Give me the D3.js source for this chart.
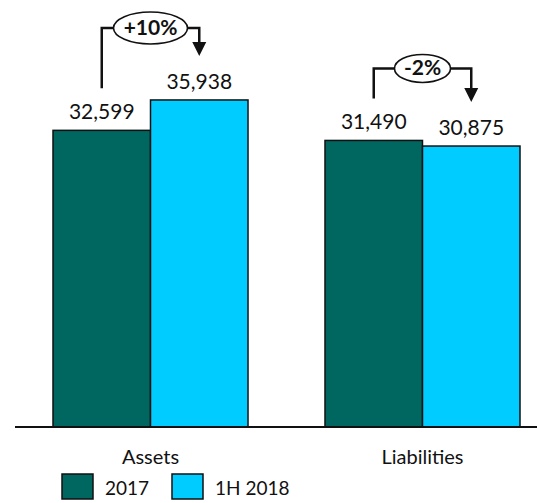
<!DOCTYPE html>
<html>
<head>
<meta charset="utf-8">
<script src="https://cdn.jsdelivr.net/npm/d3@7"></script>
<style>
  body { margin: 0; background: #fff; }
  text { font-family: Lato, "Open Sans", sans-serif; fill: #111; }
</style>
</head>
<body>
<div id="chart"></div>
<script>
// Data
const categories = ["Assets", "Liabilities"];
const seriesNames = ["2017", "1H 2018"];
const values2017 = [32599, 31490];
const values1H2018 = [35938, 30875];
const changeLabels = ["+10%", "-2%"];
const colors = ["#006660", "#00CCFF"];

const width = 537, height = 503;
const baseline = 427;

const svg = d3.select("#chart")
  .append("svg")
  .attr("width", width)
  .attr("height", height);

// Scales
const x0 = d3.scaleBand()
  .domain(categories)
  .range([53, 520])
  .paddingInner(0.283)
  .paddingOuter(0);

const x1 = d3.scaleBand()
  .domain(seriesNames)
  .range([0, x0.bandwidth()]);

const y = d3.scaleLinear()
  .domain([0, 40000])
  .range([baseline, baseline - 364]);

const rows = categories.map((c, i) => ({
  cat: c,
  vals: [values2017[i], values1H2018[i]],
  change: changeLabels[i]
}));

// Bars
const groups = svg.selectAll(".grp")
  .data(rows)
  .enter()
  .append("g")
  .attr("transform", d => `translate(${x0(d.cat)},0)`);

groups.selectAll("rect")
  .data(d => d.vals.map((v, j) => ({ key: seriesNames[j], v: v, j: j })))
  .enter()
  .append("rect")
  .attr("x", d => x1(d.key))
  .attr("y", d => y(d.v))
  .attr("width", x1.bandwidth())
  .attr("height", d => baseline - y(d.v))
  .attr("fill", d => colors[d.j])
  .attr("stroke", "#111")
  .attr("stroke-width", 1.5);

// Value labels
groups.selectAll(".val")
  .data(d => d.vals.map((v, j) => ({ key: seriesNames[j], v: v })))
  .enter()
  .append("text")
  .attr("x", d => x1(d.key) + x1.bandwidth() / 2)
  .attr("y", d => y(d.v) - 11)
  .attr("text-anchor", "middle")
  .attr("font-size", "21px")
  .text(d => d3.format(",")(d.v));

// Axis line
svg.append("line")
  .attr("x1", 15)
  .attr("x2", width)
  .attr("y1", baseline)
  .attr("y2", baseline)
  .attr("stroke", "#111")
  .attr("stroke-width", 2);

// Category labels
svg.selectAll(".cat")
  .data(categories)
  .enter()
  .append("text")
  .attr("x", d => x0(d) + x0.bandwidth() / 2)
  .attr("y", 464)
  .attr("text-anchor", "middle")
  .attr("font-size", "20px")
  .text(d => d);

// Change brackets
rows.forEach(d => {
  const gx = x0(d.cat);
  const xl = gx + x1(seriesNames[0]) + x1.bandwidth() / 2;
  const xr = gx + x1(seriesNames[1]) + x1.bandwidth() / 2;
  const topBar = y(d3.max(d.vals));
  const yTop = topBar - 72;
  const yLeftEnd = y(d.vals[0]) - 42;
  const yTip = y(d.vals[1]) - 44;
  const xm = (xl + xr) / 2;
  const rx = d.change.length > 3 ? 37 : 28;
  const ry = d.change.length > 3 ? 16 : 14;

  svg.append("path")
    .attr("d", `M${xl},${yLeftEnd}V${yTop}H${xm - rx}`)
    .attr("fill", "none")
    .attr("stroke", "#111")
    .attr("stroke-width", 2.5);

  svg.append("path")
    .attr("d", `M${xm + rx},${yTop}H${xr}V${yTip - 12}`)
    .attr("fill", "none")
    .attr("stroke", "#111")
    .attr("stroke-width", 2.5);

  svg.append("path")
    .attr("d", `M${xr - 7},${yTip - 14}L${xr + 7},${yTip - 14}L${xr},${yTip}Z`)
    .attr("fill", "#111");

  svg.append("ellipse")
    .attr("cx", xm)
    .attr("cy", yTop)
    .attr("rx", rx)
    .attr("ry", ry)
    .attr("fill", "#fff")
    .attr("stroke", "#111")
    .attr("stroke-width", 1.6);

  svg.append("text")
    .attr("x", xm)
    .attr("y", yTop + 7)
    .attr("text-anchor", "middle")
    .attr("font-size", "21px")
    .attr("font-weight", "bold")
    .text(d.change);
});

// Legend
const legend = svg.append("g")
  .attr("transform", "translate(62,474)");

seriesNames.forEach((s, i) => {
  const lx = i === 0 ? 0 : 110;
  legend.append("rect")
    .attr("x", lx)
    .attr("y", 0)
    .attr("width", 31)
    .attr("height", 25)
    .attr("fill", colors[i])
    .attr("stroke", "#111")
    .attr("stroke-width", 1.5);
  legend.append("text")
    .attr("x", lx + 43)
    .attr("y", 21)
    .attr("font-size", "19px")
    .text(s);
});
</script>
</body>
</html>
